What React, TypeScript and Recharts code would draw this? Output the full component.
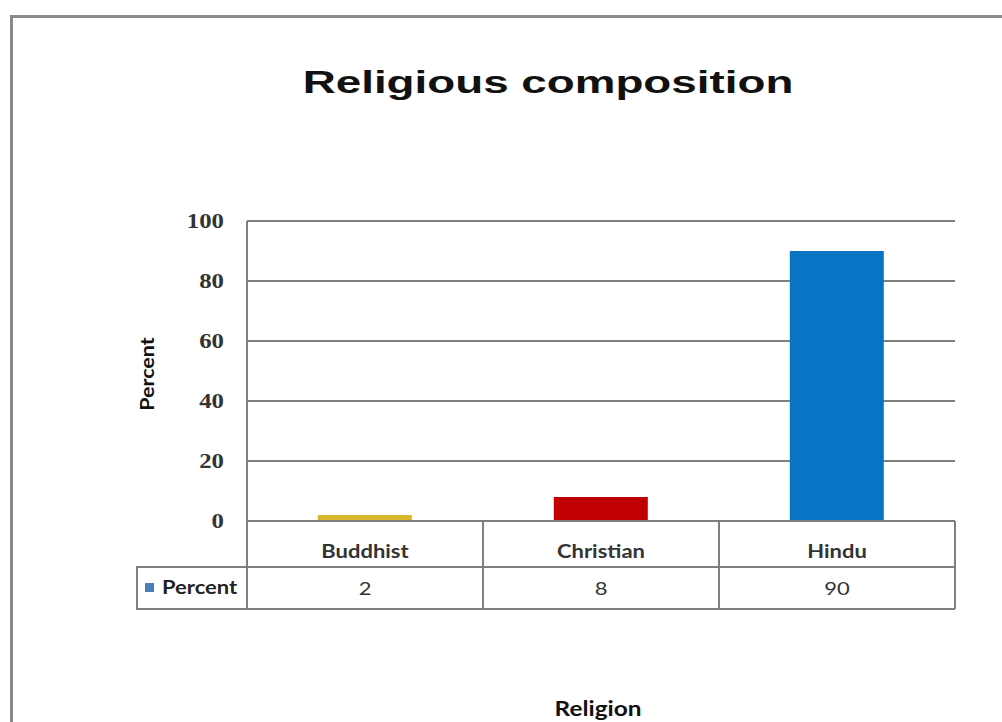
import React from 'react';
import { BarChart, Bar, XAxis, YAxis, CartesianGrid, Cell, Label } from 'recharts';

const categories = ['Buddhist', 'Christian', 'Hindu'];
const percentValues = [2, 8, 90];
const barColors = ['#D6B62A', '#C00000', '#0A74C4'];
const yTicks = [0, 20, 40, 60, 80, 100];
const seriesName = 'Percent';

const data = categories.map((c, i) => ({ name: c, value: percentValues[i] }));

const W = 1002;
const H = 722;
const MARGIN = { top: 221, right: 47, left: 137, bottom: 113 };
const Y_AXIS_W = 110;
const X_AXIS_H = 88;
const PLOT_W = W - MARGIN.left - MARGIN.right - Y_AXIS_W;
const ROW1 = 46;
const LINE = '#7f7f7f';
const SANS = 'Lato, "Open Sans", sans-serif';
const SX = 1.22;

const ST = ({ x, y, sx = SX, anchor = 'middle', children, ...rest }: any) => (
  <g transform={`translate(${x} ${y}) scale(${sx} 1)`}>
    <text x={0} y={0} textAnchor={anchor} {...rest}>
      {children}
    </text>
  </g>
);

const TableTick = (props: any) => {
  const { x, y, payload, index } = props;
  const cw = PLOT_W / categories.length;
  const l = x - cw / 2;
  const r = x + cw / 2;
  const val = percentValues[index];
  return (
    <g>
      {index === 0 && (
        <g>
          <line x1={l} y1={y} x2={l} y2={y + X_AXIS_H} stroke={LINE} strokeWidth={2} />
          <rect x={l - 110} y={y + ROW1} width={110} height={X_AXIS_H - ROW1} fill="none" stroke={LINE} strokeWidth={2} />
          <rect x={l - 102} y={y + ROW1 + 16} width={9} height={9} fill="#4A7EBB" />
          <ST x={l - 85} y={y + ROW1 + 27} anchor="start" fontFamily={SANS} fontSize={18} fontWeight={700} fill="#222">
            {seriesName}
          </ST>
        </g>
      )}
      <line x1={r} y1={y} x2={r} y2={y + X_AXIS_H} stroke={LINE} strokeWidth={2} />
      <line x1={l} y1={y + ROW1} x2={r} y2={y + ROW1} stroke={LINE} strokeWidth={2} />
      <line x1={l} y1={y + X_AXIS_H} x2={r} y2={y + X_AXIS_H} stroke={LINE} strokeWidth={2} />
      <ST x={x} y={y + 37} fontFamily={SANS} fontSize={18} fontWeight={700} fill="#333">
        {payload.value}
      </ST>
      <ST x={x} y={y + ROW1 + 28} fontFamily={SANS} fontSize={18} fill="#333">
        {val}
      </ST>
    </g>
  );
};

const YTick = (props: any) => {
  const { x, y, payload } = props;
  return (
    <ST x={x} y={y + 7} anchor="end" sx={1.18} fontFamily='"Liberation Serif", serif' fontSize={21} fontWeight={700} fill="#333">
      {payload.value}
    </ST>
  );
};

export default function App() {
  return (
    <div style={{ position: 'absolute', left: 0, top: 0, width: W, height: H, background: '#fff' }}>
      <div
        style={{
          position: 'absolute',
          left: 10,
          top: 15,
          right: 0,
          bottom: 0,
          borderLeft: '3px solid #8a8a8a',
          borderTop: '3px solid #8a8a8a',
        }}
      />
      <div
        style={{
          position: 'absolute',
          left: 0,
          width: 1096,
          top: 62,
          textAlign: 'center',
          fontFamily: '"Liberation Sans", Arial, sans-serif',
          fontWeight: 700,
          fontSize: 32,
          color: '#111',
          lineHeight: '40px',
          transform: 'scaleX(1.43)',
          transformOrigin: '548px 0',
        }}
      >
        Religious composition
      </div>
      <div style={{ position: 'absolute', left: 0, top: 0 }}>
        <BarChart width={W} height={H} data={data} margin={MARGIN} barCategoryGap="30%">
          <CartesianGrid vertical={false} stroke={LINE} strokeWidth={2} />
          <XAxis
            dataKey="name"
            height={X_AXIS_H}
            axisLine={{ stroke: LINE, strokeWidth: 2 }}
            tickLine={false}
            tickSize={0}
            tickMargin={0}
            tick={<TableTick />}
            interval={0}
          >
            <Label
              content={(p: any) => {
                const vb = p.viewBox;
                return (
                  <ST x={vb.x + vb.width / 2 - 3} y={vb.y + vb.height + 107} sx={1.16} fontFamily={SANS} fontSize={21} fontWeight={700} fill="#111">
                    Religion
                  </ST>
                );
              }}
            />
          </XAxis>
          <YAxis
            width={Y_AXIS_W}
            domain={[0, 100]}
            ticks={yTicks}
            axisLine={{ stroke: LINE, strokeWidth: 2 }}
            tickLine={false}
            tickMargin={17}
            tick={<YTick />}
          >
            <Label
              content={(p: any) => {
                const vb = p.viewBox;
                const cx = vb.x + 10;
                const cy = vb.y + vb.height / 2 + 3;
                return (
                  <g transform={`translate(${cx} ${cy}) rotate(-90) scale(1.13 1)`}>
                    <text x={0} y={0} textAnchor="middle" dominantBaseline="central" fontFamily={SANS} fontSize={19} fontWeight={700} fill="#111">
                      Percent
                    </text>
                  </g>
                );
              }}
            />
          </YAxis>
          <Bar dataKey="value" isAnimationActive={false}>
            {data.map((d, i) => (
              <Cell key={d.name} fill={barColors[i]} />
            ))}
          </Bar>
        </BarChart>
      </div>
    </div>
  );
}
